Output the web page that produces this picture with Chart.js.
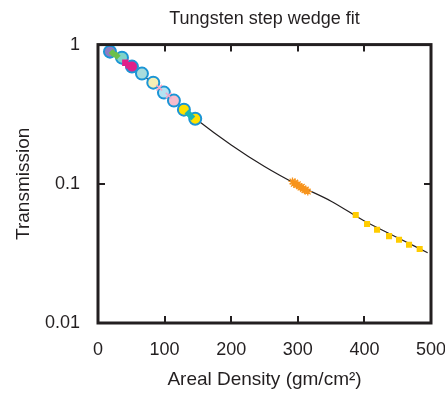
<!DOCTYPE html>
<html lang="en">
<head>
    <meta charset="UTF-8">
    <title>Tungsten step wedge fit</title>
    <script src="https://cdn.jsdelivr.net/npm/chart.js"></script>
    <style>
        body { margin: 0; background: #fff; }
    </style>
</head>
<body>
    <canvas id="myChart" width="445" height="394"></canvas>
<script>
    // fitted curve (areal density vs transmission)
    var fitX = [15, 50, 100, 150, 200, 250, 300, 350, 400, 450, 495];
    var fitY = [0.92, 0.70, 0.45, 0.285, 0.19, 0.133, 0.098, 0.075, 0.054, 0.041, 0.032];

    // blue-ringed circles
    var circX = [18, 36, 51, 66, 83, 99, 114, 129, 146];
    var circY = [0.89, 0.806, 0.695, 0.619, 0.533, 0.452, 0.396, 0.341, 0.293];
    var circFill = ['#8e7cc3', '#7fd3c8', '#e0218a', '#a8dcdc', '#f4efb5', '#b5e3f2', '#f6bccd', '#ffe100', '#ffe100'];

    // small coloured markers between the circles
    var greenX = [22, 28];
    var greenY = [0.87, 0.83];
    var magentaX = [41, 46];
    var magentaY = [0.74, 0.71];
    var pinkX = [92, 106];
    var pinkY = [0.49, 0.43];
    var cyanX = [136, 140];
    var cyanY = [0.32, 0.305];

    // orange asterisks
    var orangeX = [292, 294, 296, 298, 300, 302, 304, 306, 308, 310, 312, 315];
    var orangeY = [0.104, 0.100, 0.102, 0.098, 0.099, 0.096, 0.094, 0.095, 0.092, 0.090, 0.091, 0.088];

    // yellow squares
    var yellowX = [387, 404, 419, 437, 452, 467, 483];
    var yellowY = [0.0597, 0.0515, 0.0467, 0.0421, 0.0396, 0.0365, 0.0340];

    var xTicks = [0, 100, 200, 300, 400, 500];
    var yTicks = [0.01, 0.1, 1];

    function pts(xs, ys) {
        return xs.map(function (x, i) { return { x: x, y: ys[i] }; });
    }

    var ink = '#231f20';
    var fontName = "'Liberation Sans', Arial, sans-serif";

    var framePlugin = {
        id: 'frame',
        afterDraw: function (chart) {
            var ctx = chart.ctx;
            var a = chart.chartArea;
            var xs = chart.scales.x, ys = chart.scales.y;
            ctx.save();
            ctx.strokeStyle = ink;
            ctx.lineWidth = 3;
            ctx.strokeRect(a.left, a.top, a.right - a.left, a.bottom - a.top);
            ctx.lineWidth = 2;
            ctx.beginPath();
            xTicks.slice(1, -1).forEach(function (v) {
                var px = Math.round(xs.getPixelForValue(v));
                ctx.moveTo(px, a.bottom); ctx.lineTo(px, a.bottom - 7);
                ctx.moveTo(px, a.top); ctx.lineTo(px, a.top + 7);
            });
            yTicks.slice(1, -1).forEach(function (v) {
                var py = Math.round(ys.getPixelForValue(v));
                ctx.moveTo(a.left, py); ctx.lineTo(a.left + 7, py);
                ctx.moveTo(a.right, py); ctx.lineTo(a.right - 7, py);
            });
            ctx.stroke();
            ctx.restore();
        }
    };

    var config = {
        type: 'scatter',
        data: {
            datasets: [
                {
                    label: 'circles',
                    data: pts(circX, circY),
                    pointRadius: 6,
                    pointBorderWidth: 2,
                    pointBorderColor: '#1b95d6',
                    pointBackgroundColor: circFill,
                    order: 3
                },
                {
                    label: 'green',
                    data: pts(greenX, greenY),
                    pointStyle: 'rectRot',
                    pointRadius: 4,
                    pointBorderWidth: 0,
                    pointBackgroundColor: '#6cc04a',
                    order: 2
                },
                {
                    label: 'magenta',
                    data: pts(magentaX, magentaY),
                    pointStyle: 'rect',
                    pointRadius: 4.5,
                    pointBorderWidth: 0,
                    pointBackgroundColor: '#e0218a',
                    order: 2
                },
                {
                    label: 'pink',
                    data: pts(pinkX, pinkY),
                    pointStyle: 'crossRot',
                    pointRadius: 4,
                    pointBorderWidth: 1.5,
                    pointBorderColor: '#f4a6c8',
                    order: 2
                },
                {
                    label: 'cyan',
                    data: pts(cyanX, cyanY),
                    pointStyle: 'rectRot',
                    pointRadius: 4,
                    pointBorderWidth: 0,
                    pointBackgroundColor: '#19b5b5',
                    order: 2
                },
                {
                    label: 'orange',
                    data: pts(orangeX, orangeY),
                    pointStyle: 'star',
                    pointRadius: 4,
                    pointBorderWidth: 1.3,
                    pointBorderColor: '#f7941d',
                    order: 1
                },
                {
                    label: 'yellow',
                    data: pts(yellowX, yellowY),
                    pointStyle: 'rect',
                    pointRadius: 4.3,
                    pointBorderWidth: 0,
                    pointBackgroundColor: '#ffcc00',
                    order: 1
                },
                {
                    label: 'fit',
                    data: pts(fitX, fitY),
                    showLine: true,
                    borderColor: ink,
                    borderWidth: 1.2,
                    pointRadius: 0,
                    cubicInterpolationMode: 'monotone',
                    order: 5
                }
            ]
        },
        options: {
            responsive: false,
            animation: false,
            layout: { padding: { left: 0, right: 14, top: 0, bottom: 0 } },
            plugins: {
                legend: { display: false },
                tooltip: { enabled: false },
                title: {
                    display: true,
                    fullSize: false,
                    text: 'Tungsten step wedge fit',
                    color: ink,
                    font: { family: fontName, size: 18, weight: 'normal', lineHeight: 1.2 },
                    padding: { top: 8, bottom: 15 }
                }
            },
            scales: {
                x: {
                    type: 'linear',
                    min: 0,
                    max: 500,
                    afterBuildTicks: function (s) { s.ticks = xTicks.map(function (v) { return { value: v }; }); },
                    afterFit: function (s) { s.height = 71; s.paddingLeft = 0; s.paddingRight = 0; },
                    grid: { display: false, drawTicks: false },
                    border: { display: false },
                    ticks: { color: ink, padding: 16, maxRotation: 0, font: { family: fontName, size: 18 } },
                    title: {
                        display: true,
                        text: 'Areal Density (gm/cm²)',
                        color: ink,
                        font: { family: fontName, size: 19 },
                        padding: { top: 0, bottom: 3 }
                    }
                },
                y: {
                    type: 'logarithmic',
                    min: 0.01,
                    max: 1,
                    afterBuildTicks: function (s) { s.ticks = yTicks.map(function (v) { return { value: v }; }); },
                    afterFit: function (s) { s.width = 98; s.paddingTop = 0; s.paddingBottom = 0; },
                    grid: { display: false, drawTicks: false },
                    border: { display: false },
                    ticks: {
                        color: ink,
                        padding: 18,
                        font: { family: fontName, size: 18 },
                        callback: function (v) { return String(v); }
                    },
                    title: {
                        display: true,
                        text: 'Transmission',
                        color: ink,
                        font: { family: fontName, size: 19 },
                        padding: { top: 12, bottom: 0 }
                    }
                }
            }
        },
        plugins: [framePlugin]
    };

    var ctx = document.getElementById('myChart').getContext('2d');
    window.myChart = new Chart(ctx, config);
</script>
</body>
</html>
